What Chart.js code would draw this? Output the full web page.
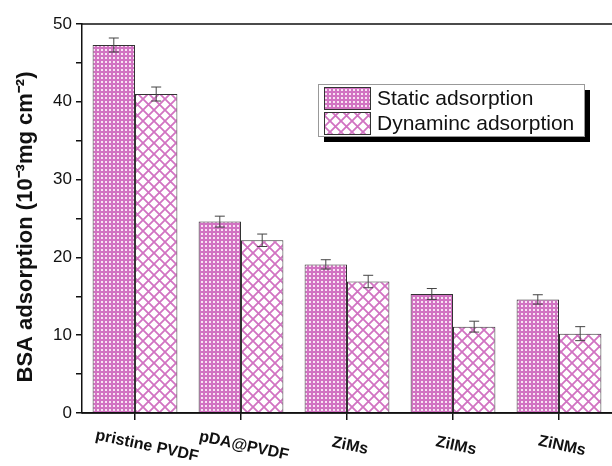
<!DOCTYPE html>
<html>
<head>
<meta charset="utf-8">
<script src="https://cdn.jsdelivr.net/npm/chart.js@4.4.1/dist/chart.umd.min.js"></script>
<style>
  html, body { margin: 0; padding: 0; background: #fff; }
  #wrap { width: 612px; height: 466px; }
</style>
</head>
<body>
<div id="wrap"><canvas id="myChart" width="612" height="466"></canvas></div>
<script>
// data
const categories = ['pristine PVDF', 'pDA@PVDF', 'ZiMs', 'ZiIMs', 'ZiNMs'];
const staticVals = [47.3, 24.6, 19.1, 15.3, 14.6];
const staticErr = [0.9, 0.7, 0.6, 0.7, 0.6];
const dynamicVals = [41.0, 22.2, 16.9, 11.1, 10.2];
const dynamicErr = [0.9, 0.8, 0.8, 0.7, 0.9];
const seriesNames = ['Static adsorption', 'Dynaminc adsorption'];
const yTicks = [0, 10, 20, 30, 40, 50];
const yTitle = 'BSA adsorption (10⁻³mg cm⁻²)';

const pink = '#d173c2';

// pink with small white dots
function dotPattern() {
  const c = document.createElement('canvas');
  c.width = 4; c.height = 4;
  const g = c.getContext('2d');
  g.fillStyle = pink;
  g.fillRect(0, 0, 4, 4);
  g.fillStyle = '#f8e4f3';
  g.fillRect(1, 1, 2, 2);
  return g.createPattern(c, 'repeat');
}

// white with pink crosshatch
function hatchPattern() {
  const c = document.createElement('canvas');
  c.width = 11; c.height = 11;
  const g = c.getContext('2d');
  g.fillStyle = '#fff';
  g.fillRect(0, 0, 11, 11);
  g.strokeStyle = pink;
  g.lineWidth = 1.8;
  g.beginPath();
  g.moveTo(-1, -1); g.lineTo(12, 12);
  g.moveTo(12, -1); g.lineTo(-1, 12);
  g.stroke();
  return g.createPattern(c, 'repeat');
}

const fills = [dotPattern(), hatchPattern()];
const errs = [staticErr, dynamicErr];

// error bars on top of each bar
const errorBars = {
  id: 'errorBars',
  afterDatasetsDraw(chart) {
    const ctx = chart.ctx;
    const y = chart.scales.y;
    ctx.save();
    ctx.strokeStyle = '#444';
    ctx.lineWidth = 1;
    chart.data.datasets.forEach((ds, d) => {
      chart.getDatasetMeta(d).data.forEach((bar, i) => {
        const v = ds.data[i], e = errs[d][i];
        const top = y.getPixelForValue(v + e), bot = y.getPixelForValue(v - e);
        ctx.beginPath();
        ctx.moveTo(bar.x, top); ctx.lineTo(bar.x, bot);
        ctx.moveTo(bar.x - 5, top); ctx.lineTo(bar.x + 5, top);
        ctx.moveTo(bar.x - 5, bot); ctx.lineTo(bar.x + 5, bot);
        ctx.stroke();
      });
    });
    ctx.restore();
  }
};

// frame lines, y title, slanted x labels, legend box with shadow
const extras = {
  id: 'extras',
  afterDraw(chart) {
    const ctx = chart.ctx;
    const a = chart.chartArea;
    const W = chart.width;
    ctx.save();
    ctx.strokeStyle = '#111';
    ctx.lineWidth = 1.5;
    ctx.beginPath();
    ctx.moveTo(a.left, a.top); ctx.lineTo(W, a.top);
    ctx.moveTo(a.left, a.bottom); ctx.lineTo(W, a.bottom);
    ctx.stroke();

    // y axis title, a bit below the middle like the original
    ctx.fillStyle = '#111';
    ctx.font = 'bold 22px "Liberation Sans", Arial, sans-serif';
    ctx.textAlign = 'center';
    ctx.textBaseline = 'middle';
    ctx.save();
    ctx.translate(26, 227);
    ctx.rotate(-Math.PI / 2);
    ctx.fillText(yTitle, 0, 0);
    ctx.restore();

    // x labels rotated clockwise
    const xs = chart.scales.x;
    ctx.font = 'bold 16px "Liberation Sans", Arial, sans-serif';
    categories.forEach((c, i) => {
      const px = xs.getPixelForTick(i) + (i === 0 ? 12 : 3);
      ctx.save();
      ctx.translate(px, a.bottom + 33);
      ctx.rotate(12 * Math.PI / 180);
      ctx.fillText(c, 0, 0);
      ctx.restore();
    });

    // legend
    const lx = 318, ly = 84, lw = 266, lh = 52;
    ctx.fillStyle = '#000';
    ctx.fillRect(lx + 6, ly + 6, lw, lh);
    ctx.fillStyle = '#fff';
    ctx.fillRect(lx, ly, lw, lh);
    ctx.strokeStyle = '#999';
    ctx.lineWidth = 1;
    ctx.strokeRect(lx + 0.5, ly + 0.5, lw, lh);
    ctx.font = '21px "Liberation Sans", Arial, sans-serif';
    ctx.textAlign = 'left';
    seriesNames.forEach((n, i) => {
      const sy = ly + 3 + i * 25;
      ctx.fillStyle = fills[i];
      ctx.fillRect(lx + 6, sy, 46, 22);
      ctx.strokeStyle = '#333';
      ctx.strokeRect(lx + 6.5, sy + 0.5, 46, 22);
      ctx.fillStyle = '#111';
      ctx.fillText(n, lx + 59, sy + 12);
    });
    ctx.restore();
  }
};

const ctx = document.getElementById('myChart').getContext('2d');
new Chart(ctx, {
  type: 'bar',
  data: {
    labels: categories,
    datasets: [{
      label: seriesNames[0],
      data: staticVals,
      backgroundColor: fills[0],
      borderColor: '#333',
      borderWidth: 1,
      categoryPercentage: 0.8,
      barPercentage: 1.0
    }, {
      label: seriesNames[1],
      data: dynamicVals,
      backgroundColor: fills[1],
      borderColor: '#333',
      borderWidth: 1,
      categoryPercentage: 0.8,
      barPercentage: 1.0
    }]
  },
  options: {
    responsive: false,
    animation: false,
    layout: { padding: { top: 24, right: 0, bottom: 0, left: 0 } },
    plugins: {
      legend: { display: false },
      tooltip: { enabled: false }
    },
    scales: {
      x: {
        grid: { display: true, drawOnChartArea: false, offset: false, tickLength: 7, color: '#111', lineWidth: 1.5 },
        border: { display: true, color: '#111', width: 1.5 },
        ticks: { color: 'rgba(0,0,0,0)', maxRotation: 0, font: { size: 14 } },
        afterFit(s) { s.height = 53; }
      },
      y: {
        min: 0,
        max: 50,
        grid: { display: true, drawOnChartArea: false, tickLength: 6, color: '#111', lineWidth: 1.5 },
        border: { display: true, color: '#111', width: 1.5 },
        ticks: {
          stepSize: 5,
          color: '#111',
          padding: 4,
          font: { size: 17, family: '"Liberation Sans", Arial, sans-serif' },
          callback: v => yTicks.includes(v) ? v : ''
        },
        afterFit(s) { s.width = 82; }
      }
    }
  },
  plugins: [errorBars, extras]
});
</script>
</body>
</html>
